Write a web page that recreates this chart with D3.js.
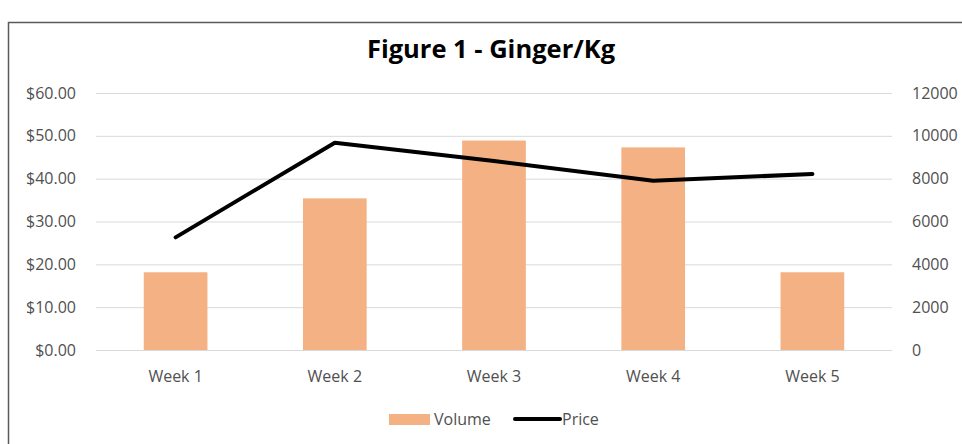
<!DOCTYPE html>
<html><head><meta charset="utf-8">
<script src="https://cdn.jsdelivr.net/npm/d3@7"></script>
<style>body{margin:0;background:#fff}svg{display:block}</style>
</head><body>
<svg id="c" width="962" height="444"></svg>
<script>
const categories = ["Week 1","Week 2","Week 3","Week 4","Week 5"];
const volume = [3630, 7080, 9780, 9460, 3630];
const price = [26.3, 48.4, 44.1, 39.5, 41.1];
const priceTicks = [0,10,20,30,40,50,60];
const volumeTicks = [0,2000,4000,6000,8000,10000,12000];
const title = "Figure 1 - Ginger/Kg";

const svg = d3.select("#c");
const font = "'Open Sans', sans-serif";
const txt = "#505050";
const m = {l:96, r:892, t:93, b:350};

svg.append("rect").attr("x",8.5).attr("y",22.5).attr("width",1000).attr("height",500)
  .attr("fill","#fff").attr("stroke","#5a5a5a").attr("stroke-width",1.5);

const x = d3.scaleBand().domain(categories).range([m.l,m.r]).paddingInner(0.6).paddingOuter(0.3);
const yL = d3.scaleLinear().domain([0,60]).range([m.b,m.t]);
const yR = d3.scaleLinear().domain([0,12000]).range([m.b,m.t]);

// gridlines
svg.append("g").selectAll("line").data(priceTicks).join("line")
  .attr("x1",m.l).attr("x2",m.r).attr("y1",d=>yL(d)+0.5).attr("y2",d=>yL(d)+0.5)
  .attr("stroke","#d9d9d9").attr("stroke-width",1);

// left axis
const la = svg.append("g").attr("transform",`translate(${m.l-20},0)`)
  .call(d3.axisLeft(yL).tickValues(priceTicks).tickSize(0).tickPadding(0).tickFormat(d=>"$"+d3.format(".2f")(d)));
la.select(".domain").remove();
la.selectAll("text").attr("fill",txt).style("font-family",font).style("font-size","16px");

// right axis
const ra = svg.append("g").attr("transform",`translate(${m.r+20},0)`)
  .call(d3.axisRight(yR).tickValues(volumeTicks).tickSize(0).tickPadding(0).tickFormat(d3.format("d")));
ra.select(".domain").remove();
ra.selectAll("text").attr("fill",txt).style("font-family",font).style("font-size","16px");

// bars
svg.append("g").selectAll("rect").data(volume).join("rect")
  .attr("x",(d,i)=>x(categories[i])).attr("width",x.bandwidth())
  .attr("y",d=>yR(d)).attr("height",d=>yR(0)-yR(d)).attr("fill","#f4b183");

// x axis labels
const xa = svg.append("g").attr("transform",`translate(0,${m.b+21})`)
  .call(d3.axisBottom(x).tickSize(0).tickPadding(0));
xa.select(".domain").remove();
xa.selectAll("text").attr("fill",txt).style("font-family",font).style("font-size","16px").attr("dy","0.71em");

// line
const line = d3.line().x((d,i)=>x(categories[i])+x.bandwidth()/2).y(d=>yL(d));
svg.append("path").datum(price).attr("d",line).attr("fill","none")
  .attr("stroke","#000").attr("stroke-width",4).attr("stroke-linecap","round").attr("stroke-linejoin","round");

// title
svg.append("text").attr("x",491).attr("y",58).attr("text-anchor","middle")
  .style("font-family",font).style("font-weight","bold").style("font-size","25.5px").attr("fill","#000").text(title);

// legend
const lg = svg.append("g");
lg.append("rect").attr("x",389).attr("y",414).attr("width",41).attr("height",11).attr("fill","#f4b183");
lg.append("text").attr("x",434).attr("y",419).attr("dy","0.35em").style("font-family",font).style("font-size","16px").attr("fill",txt).text("Volume");
lg.append("line").attr("x1",515).attr("x2",560).attr("y1",419).attr("y2",419).attr("stroke","#000").attr("stroke-width",4).attr("stroke-linecap","round");
lg.append("text").attr("x",562).attr("y",419).attr("dy","0.35em").style("font-family",font).style("font-size","16px").attr("fill",txt).text("Price");
</script>
</body></html>
